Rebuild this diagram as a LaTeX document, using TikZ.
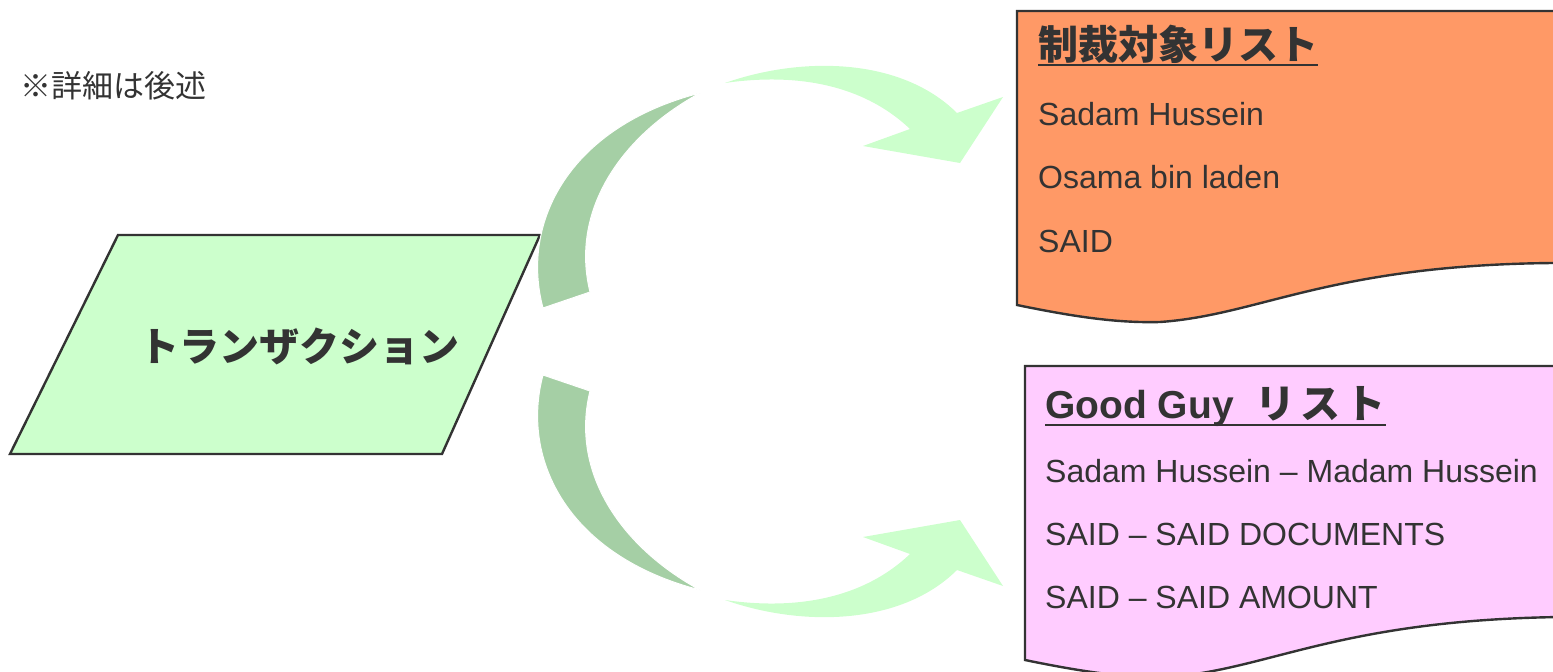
\documentclass[tikz,border=0pt]{standalone}
\usepackage{fontspec}
\setmainfont{Liberation Sans}
\newfontfamily\jpfont{Noto Sans CJK JP}
\definecolor{inkgray}{HTML}{333333}
\definecolor{mintfill}{HTML}{CCFFCC}
\definecolor{sagefill}{HTML}{A5CFA5}
\definecolor{orangefill}{HTML}{FF9966}
\definecolor{pinkfill}{HTML}{FFCCFF}

\tikzset{
  outline/.style={draw=inkgray, line width=2.4pt},
  bodytext/.style={anchor=base west, inner sep=0pt, text=inkgray,
    font=\fontsize{32}{38}\selectfont},
  headtext/.style={anchor=base west, inner sep=0pt, text=inkgray,
    font=\fontsize{39}{44}\selectfont\bfseries},
  % curved block arrow, drawn round the axis y=0
  bentarrow/.pic={
    \fill[sagefill, draw=white, line width=1pt] (543,-33.5)
      .. controls (520,-120) and (570,-215) .. (700,-248.5)
      .. controls (620,-205) and (570,-130) .. (590,-49.5) -- cycle;
    \fill[mintfill] (725,-258.5)
      .. controls (800,-285) and (900,-285) .. (957,-228.5)
      -- (1003,-244.5) -- (960,-178.5) -- (863,-195.5) -- (910,-212.5)
      .. controls (860,-260) and (790,-268) .. (725,-258.5) -- cycle;
  }
}
\newcommand{\kanagap}{\hspace{5pt}}

\begin{document}
\begin{tikzpicture}[x=1pt,y=-1pt]
  \useasboundingbox (0,0) rectangle (1553,672);

  % note
  \node[anchor=base west, inner sep=0pt, text=inkgray,
    font=\jpfont\fontsize{31}{36}\selectfont] (note) at (20,97) {※詳細は後述};

  % transaction
  \filldraw[fill=mintfill, outline] (118,235) -- (540,235) -- (442,454) -- (10,454) -- cycle;
  \node[inner sep=0pt, text=inkgray, font=\jpfont\fontsize{40}{44}\selectfont\bfseries]
    (trans) at (299,346) {トランザクション};

  % arrows
  \pic at (0,341.5) {bentarrow};
  \pic[yscale=-1] at (0,341.5) {bentarrow};

  % sanctions list
  \filldraw[fill=orangefill, outline] (1017,11) -- (1570,11) -- (1570,263) -- (1553,263)
    .. controls (1330,265) and (1260,315) .. (1160,322)
    .. controls (1120,323) and (1080,318) .. (1017,305) -- cycle;
  \node[headtext, font=\jpfont\fontsize{40}{44}\selectfont\bfseries] (sanchead) at (1038,59) {制裁対象リスト};
  \draw[inkgray, line width=2.2pt] ([yshift=-6pt]sanchead.base west) -- ([yshift=-6pt]sanchead.base east);
  \node[bodytext] (sanc1) at (1038,125) {Sadam Hussein};
  \node[bodytext] (sanc2) at (1038,188) {Osama bin laden};
  \node[bodytext] (sanc3) at (1038,252) {SAID};

  % good guy list
  \filldraw[fill=pinkfill, outline] (1025,366) -- (1570,366) -- (1570,617) -- (1561,617)
    .. controls (1338,620) and (1268,670) .. (1168,677)
    .. controls (1128,678) and (1088,673) .. (1025,660) -- cycle;
  \node[headtext] (goodhead) at (1045,418)
    {Good Guy\hspace{22pt}{\jpfont\fontsize{40}{44}\selectfont リ\kanagap ス\kanagap ト}};
  \draw[inkgray, line width=2.2pt] ([yshift=-7pt]goodhead.base west) -- ([yshift=-7pt]goodhead.base east);
  \node[bodytext] (good1) at (1045,482) {Sadam Hussein -- Madam Hussein};
  \node[bodytext] (good2) at (1045,545) {SAID -- SAID DOCUMENTS};
  \node[bodytext] (good3) at (1045,608) {SAID -- SAID AMOUNT};
\end{tikzpicture}
\end{document}
